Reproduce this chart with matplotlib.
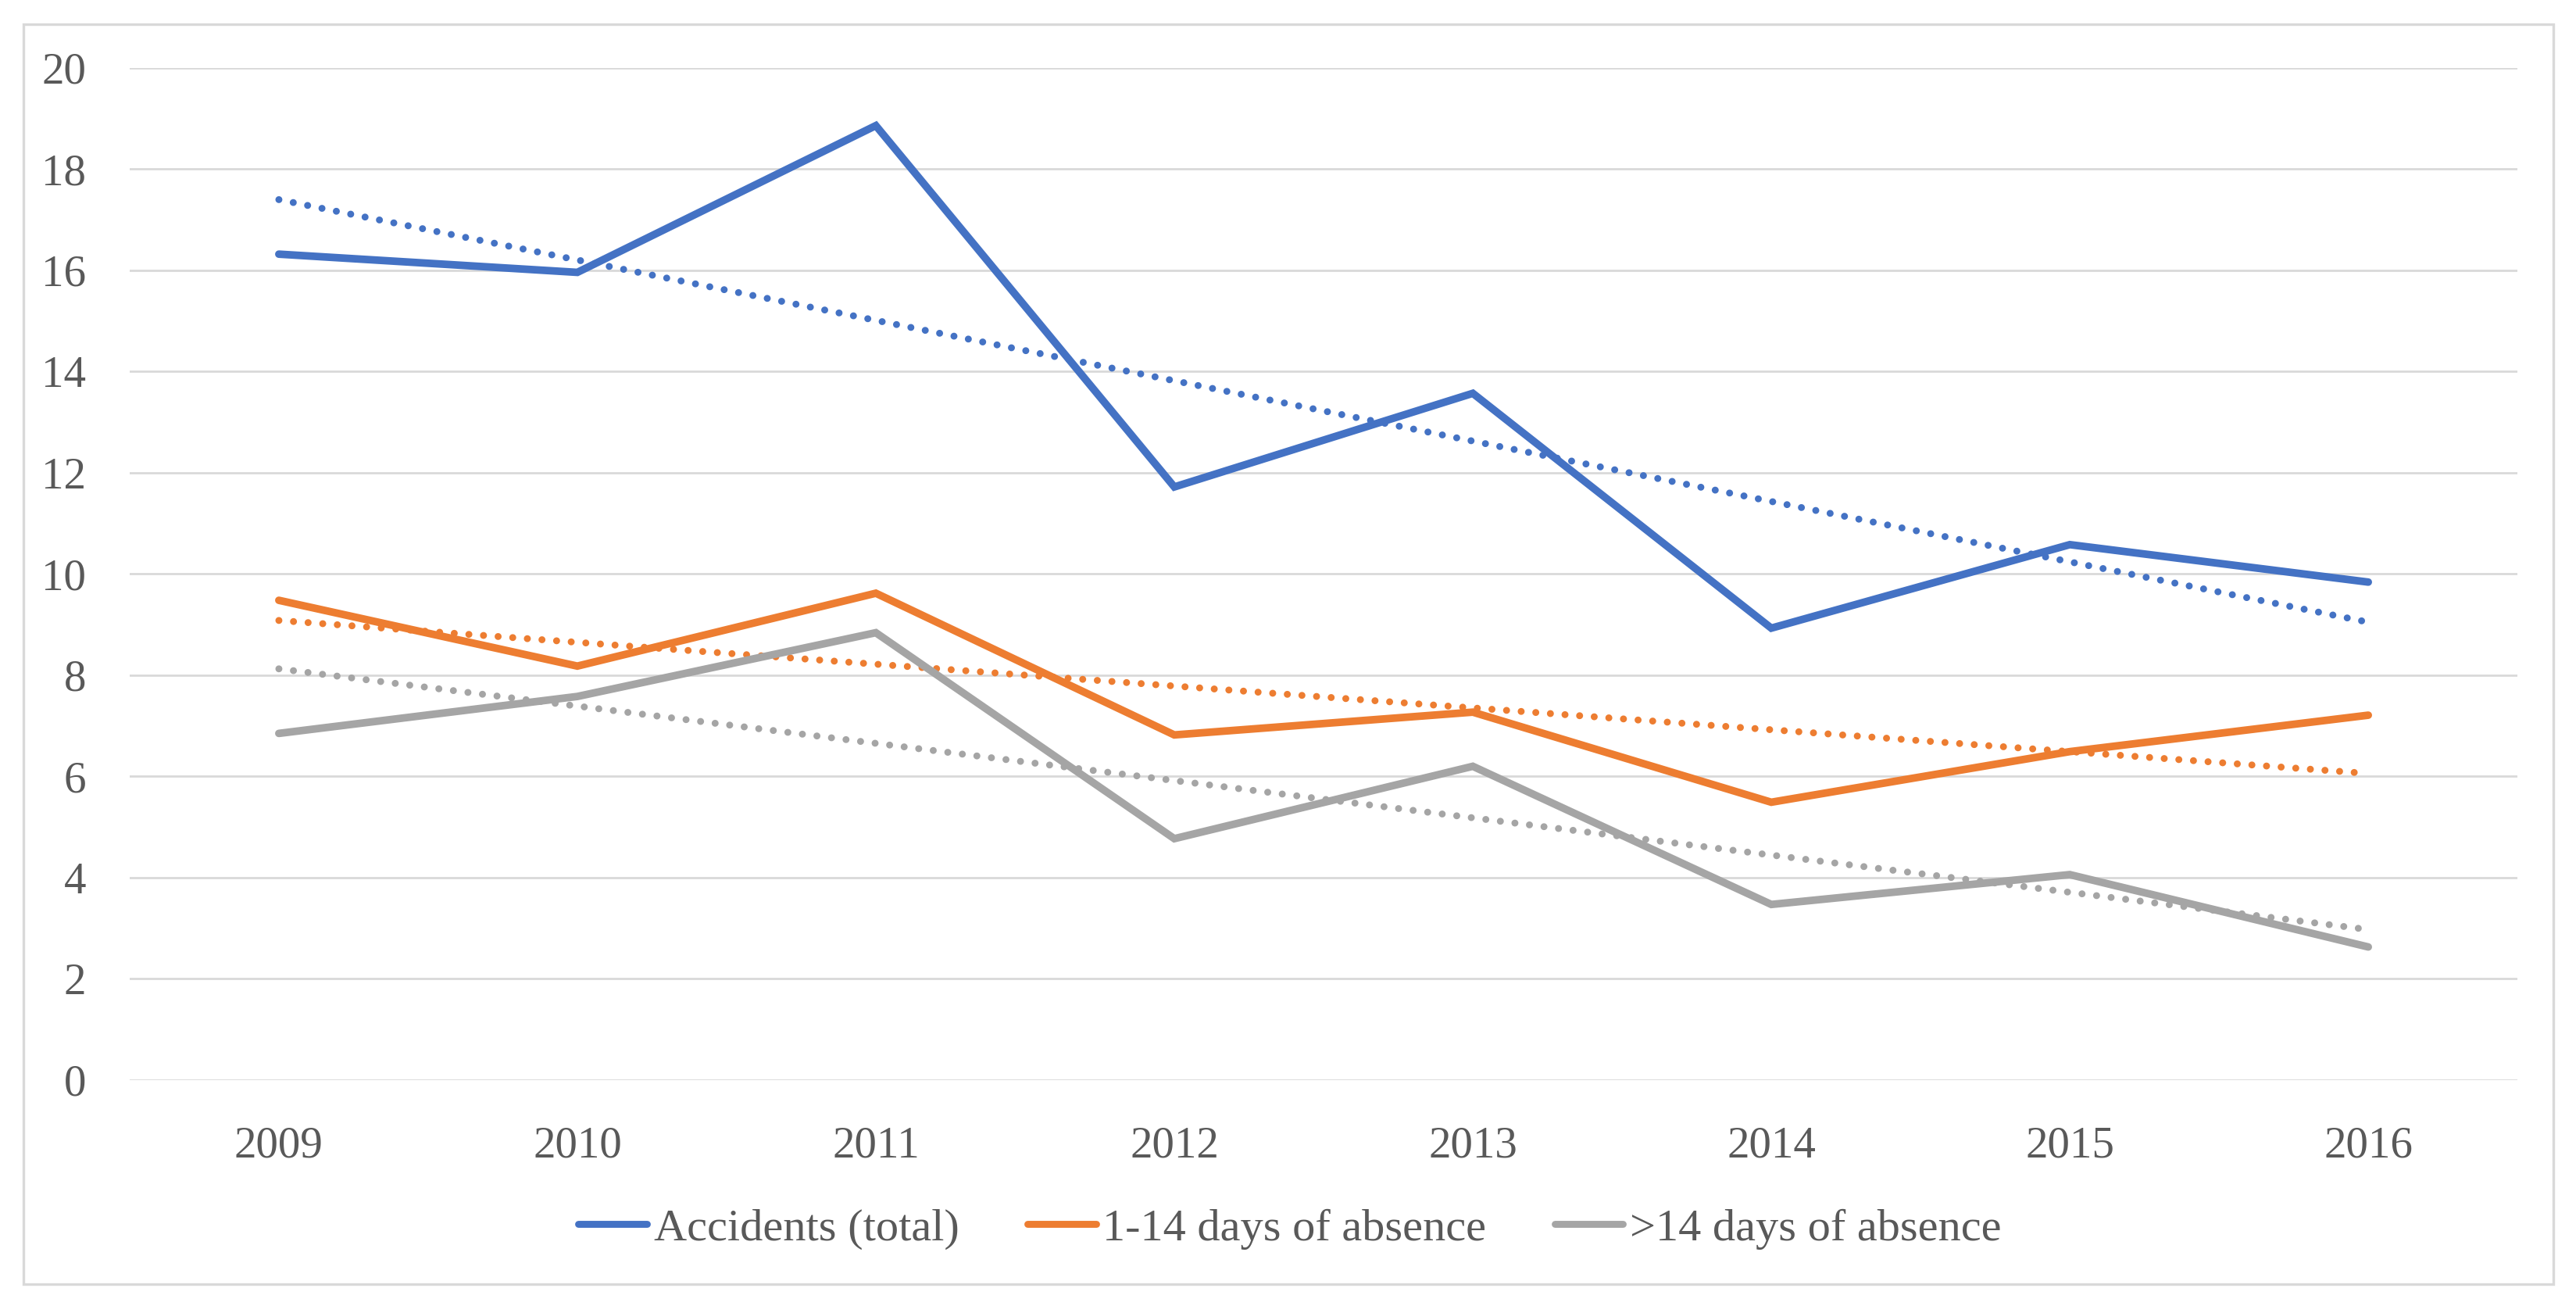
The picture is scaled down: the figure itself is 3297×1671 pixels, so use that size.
import numpy as np
import matplotlib.pyplot as plt
from matplotlib.patches import Rectangle

# data
years = ['2009', '2010', '2011', '2012', '2013', '2014', '2015', '2016']
accidents_total = [16.32, 15.96, 18.86, 11.72, 13.57, 8.93, 10.58, 9.84]
absence_1_14 = [9.48, 8.18, 9.62, 6.82, 7.27, 5.49, 6.49, 7.21]
absence_over_14 = [6.85, 7.58, 8.84, 4.77, 6.20, 3.47, 4.06, 2.63]

labels = ['Accidents (total)', '1-14 days of absence', '>14 days of absence']
colors = ['#4472C4', '#ED7D31', '#A5A5A5']

plt.rcParams['font.family'] = ['Liberation Serif', 'DejaVu Serif']

fig = plt.figure(figsize=(16.49, 8.355), dpi=200)
ax = fig.add_axes([0.0503, 0.173, 0.9267, 0.775])

x = np.arange(len(years))
series = [accidents_total, absence_1_14, absence_over_14]

# linear trend lines (as Excel's linear trendline)
for vals, c in zip(series, colors):
    k, b = np.polyfit(x, vals, 1)
    ax.plot(x, k * x + b, color=c, lw=3.2, linestyle=(0, (0.01, 2.1)),
            dash_capstyle='round', zorder=2)

for vals, c, lab in zip(series, colors, labels):
    ax.plot(x, vals, color=c, lw=3.5, label=lab, solid_capstyle='round',
            solid_joinstyle='miter', zorder=3)

ax.set_xlim(-0.5, len(years) - 0.5)
ax.set_ylim(0, 20)
ax.set_yticks(np.arange(0, 21, 2))
ax.set_xticks(x)
ax.set_xticklabels(years)
ax.grid(axis='y', color='#D9D9D9', lw=1.0, zorder=0)
ax.set_axisbelow(True)
for s in ax.spines.values():
    s.set_visible(False)
ax.tick_params(axis='both', length=0, labelsize=20.5, colors='#595959')
ax.tick_params(axis='y', pad=20)
ax.tick_params(axis='x', pad=21)

leg = fig.legend(loc='center', bbox_to_anchor=(0.5006, 0.059), ncol=3,
                 frameon=False, fontsize=21, handlelength=1.5,
                 handletextpad=0.15, columnspacing=1.5)
for t in leg.get_texts():
    t.set_color('#595959')
for h in leg.get_lines():
    h.set_linewidth(3.2)

# outer chart border
fig.patches.append(Rectangle((30 / 3298, 1 - 1643 / 1671), (3268 - 30) / 3298,
                             (1643 - 31) / 1671, transform=fig.transFigure,
                             fill=False, edgecolor='#D9D9D9', lw=1.2))

fig.savefig('out.png', dpi=200)
